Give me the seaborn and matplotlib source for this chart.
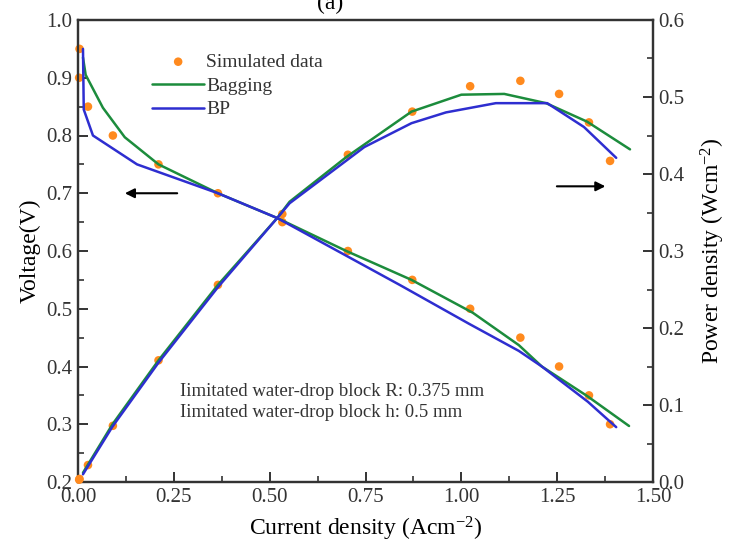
import matplotlib
matplotlib.use("Agg")
import matplotlib.pyplot as plt
import seaborn as sns
import pandas as pd

# ---------------- data ----------------
sim_current = [0.004, 0.003, 0.026, 0.091, 0.21, 0.365, 0.533, 0.704, 0.872, 1.023, 1.154, 1.255, 1.333, 1.388]
sim_voltage = [0.95, 0.90, 0.85, 0.80, 0.75, 0.70, 0.65, 0.60, 0.55, 0.50, 0.45, 0.40, 0.35, 0.30]
sim_power = [0.004, 0.003, 0.022, 0.073, 0.158, 0.256, 0.348, 0.425, 0.481, 0.514, 0.521, 0.504, 0.467, 0.417]

bag_v_current = [0.013, 0.02, 0.065, 0.122, 0.21, 0.365, 0.52, 0.70, 0.87, 1.03, 1.15, 1.21, 1.328, 1.4375]
bag_v_voltage = [0.935, 0.905, 0.848, 0.797, 0.75, 0.70, 0.657, 0.60, 0.55, 0.493, 0.437, 0.40, 0.349, 0.297]

bp_v_current = [0.013, 0.015, 0.039, 0.154, 0.365, 0.52, 0.84, 1.02, 1.15, 1.21, 1.33, 1.404]
bp_v_voltage = [0.95, 0.845, 0.80, 0.75, 0.70, 0.657, 0.541, 0.474, 0.427, 0.40, 0.339, 0.295]

bag_p_current = [0.013, 0.09, 0.21, 0.365, 0.52, 0.552, 0.70, 0.87, 1.0, 1.112, 1.221, 1.328, 1.44]
bag_p_power = [0.012, 0.075, 0.158, 0.256, 0.343, 0.364, 0.422, 0.481, 0.503, 0.504, 0.492, 0.468, 0.432]

bp_p_current = [0.013, 0.09, 0.21, 0.365, 0.52, 0.552, 0.747, 0.87, 0.96, 1.09, 1.224, 1.32, 1.404]
bp_p_power = [0.010, 0.072, 0.155, 0.253, 0.343, 0.362, 0.435, 0.466, 0.48, 0.492, 0.492, 0.461, 0.421]

x_ticks = [0.00, 0.25, 0.50, 0.75, 1.00, 1.25, 1.50]
v_ticks = [0.2, 0.3, 0.4, 0.5, 0.6, 0.7, 0.8, 0.9, 1.0]
p_ticks = [0.0, 0.1, 0.2, 0.3, 0.4, 0.5, 0.6]

# ---------------- style ----------------
sns.set_theme(style="white")
plt.rcParams["font.family"] = ["Liberation Serif", "DejaVu Serif"]
plt.rcParams["mathtext.fontset"] = "custom"
plt.rcParams["mathtext.rm"] = "Liberation Serif"
plt.rcParams["mathtext.it"] = "Liberation Serif:italic"

GREEN = "#1c8c3c"
BLUE = "#2e2ed0"
ORANGE = "#ff8a1e"
TEXT = "#333333"

fig = plt.figure(figsize=(7.30, 5.53), dpi=100)
ax = fig.add_axes([78 / 730, 1 - 482 / 553, (653 - 78) / 730, (482 - 20) / 553])
ax2 = ax.twinx()

sim_df = pd.DataFrame({"I": sim_current, "V": sim_voltage, "P": sim_power})
bag_v = pd.DataFrame({"I": bag_v_current, "V": bag_v_voltage})
bp_v = pd.DataFrame({"I": bp_v_current, "V": bp_v_voltage})
bag_p = pd.DataFrame({"I": bag_p_current, "P": bag_p_power})
bp_p = pd.DataFrame({"I": bp_p_current, "P": bp_p_power})

# voltage (left)
sns.scatterplot(data=sim_df, x="I", y="V", ax=ax, color=ORANGE, s=38, edgecolor="none",
                zorder=3, clip_on=False, label="Simulated data")
sns.lineplot(data=bag_v, x="I", y="V", ax=ax, color=GREEN, lw=1.8, sort=False,
             estimator=None, label="Bagging", zorder=4)
sns.lineplot(data=bp_v, x="I", y="V", ax=ax, color=BLUE, lw=1.8, sort=False,
             estimator=None, label="BP", zorder=5)

# power (right)
sns.scatterplot(data=sim_df, x="I", y="P", ax=ax2, color=ORANGE, s=38, edgecolor="none",
                zorder=3, clip_on=False, legend=False)
sns.lineplot(data=bag_p, x="I", y="P", ax=ax2, color=GREEN, lw=1.8, sort=False,
             estimator=None, legend=False, zorder=4)
sns.lineplot(data=bp_p, x="I", y="P", ax=ax2, color=BLUE, lw=1.8, sort=False,
             estimator=None, legend=False, zorder=5)

ax.set_xlim(0, 1.5)
ax.set_ylim(0.2, 1.0)
ax2.set_ylim(0.0, 0.6)
ax.set_xticks(x_ticks)
ax.set_xticklabels([f"{t:.2f}" for t in x_ticks])
ax.set_yticks(v_ticks)
ax.set_yticklabels([f"{t:.1f}" for t in v_ticks])
ax2.set_yticks(p_ticks)
ax2.set_yticklabels([f"{t:.1f}" for t in p_ticks])
ax.set_xticks([0.125, 0.375, 0.625, 0.875, 1.125, 1.375], minor=True)
ax.set_yticks([0.25, 0.35, 0.45, 0.55, 0.65, 0.75, 0.85, 0.95], minor=True)
ax2.set_yticks([0.05, 0.15, 0.25, 0.35, 0.45, 0.55], minor=True)

for a in (ax, ax2):
    for sp in a.spines.values():
        sp.set_color("#333333")
        sp.set_linewidth(1.6)
ax.tick_params(axis="both", which="major", direction="in", length=7, width=1.4,
               labelsize=15, colors="#333333", labelcolor=TEXT, pad=4)
ax.tick_params(axis="both", which="minor", direction="in", length=4, width=1.2, colors="#333333")
ax.tick_params(axis="y", which="both", left=True, right=False)
ax.tick_params(axis="x", which="both", bottom=True, top=False)
ax2.tick_params(axis="y", which="major", direction="in", length=7, width=1.4,
                labelsize=15, colors="#333333", labelcolor=TEXT, pad=4)
ax2.tick_params(axis="y", which="minor", direction="in", length=4, width=1.2, colors="#333333")

ax.set_xlabel("Current density (Acm$^{-2}$)", fontsize=17, color="black", labelpad=6)
ax.set_ylabel("Voltage(V)", fontsize=17, color="black", labelpad=4)
ax2.set_ylabel("Power density (Wcm$^{-2}$)", fontsize=17, color="black", labelpad=10)

leg = ax.legend(loc="upper left", bbox_to_anchor=(0.115, 0.945), frameon=False, fontsize=14,
                handlelength=2.7, handletextpad=0.1, labelspacing=0.32, borderaxespad=0)
for t in leg.get_texts():
    t.set_color(TEXT)

ax.text(0.178, 0.195, "Iimitated water-drop block R: 0.375 mm", transform=ax.transAxes,
        fontsize=13.5, color=TEXT, va="center")
ax.text(0.178, 0.15, "Iimitated water-drop block h: 0.5 mm", transform=ax.transAxes,
        fontsize=13.5, color=TEXT, va="center")

# direction arrows
ax.annotate("", xy=(0.115, 0.70), xytext=(0.266, 0.70),
            arrowprops=dict(arrowstyle="-|>", color="black", lw=1.5, mutation_scale=14))
ax2.annotate("", xy=(1.383, 0.384), xytext=(1.242, 0.384),
             arrowprops=dict(arrowstyle="-|>", color="black", lw=1.5, mutation_scale=14))

fig.text(0.452, 0.993, "(a)", fontsize=17, ha="center", va="center", color="black")

fig.savefig("out.png", dpi=100)
